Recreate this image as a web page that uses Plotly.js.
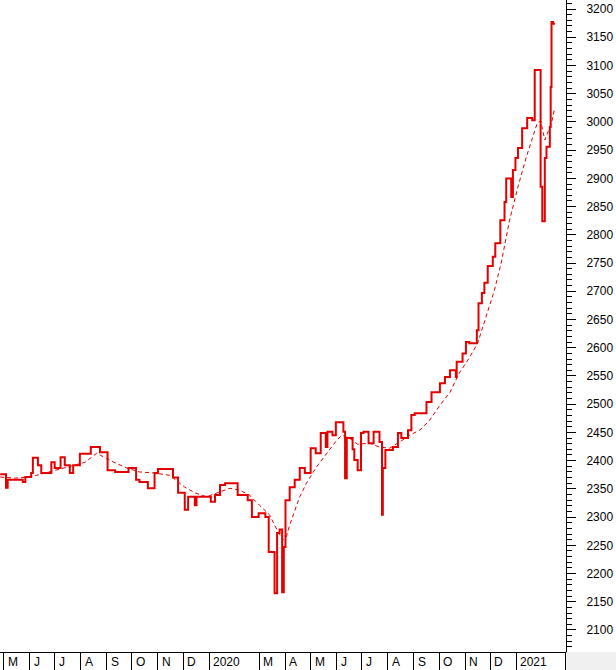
<!DOCTYPE html>
<html>
<head>
<meta charset="utf-8">
<script src="https://cdn.plot.ly/plotly-3.0.1.min.js"></script>
<style>html,body{margin:0;padding:0;background:#fff;}#chart{width:616px;height:670px;}</style>
</head>
<body>
<div id="chart"></div>
<script>
// Daily close (step line)
const dates = [
'2019-04-27','2019-05-04','2019-05-06','2019-05-24','2019-05-27','2019-06-03','2019-06-05','2019-06-11','2019-06-15','2019-06-27',
'2019-07-01','2019-07-08','2019-07-13','2019-07-19','2019-07-23','2019-07-31','2019-08-13','2019-08-24','2019-09-02','2019-09-11',
'2019-09-27','2019-10-06','2019-10-10','2019-10-20','2019-10-28','2019-11-01','2019-11-19','2019-11-25','2019-12-03','2019-12-07',
'2019-12-15','2019-12-17','2020-01-03','2020-01-08','2020-01-14','2020-01-20','2020-02-04','2020-02-16','2020-02-21','2020-02-29',
'2020-03-08','2020-03-12','2020-03-19','2020-03-22','2020-03-25','2020-03-28','2020-03-30','2020-04-01','2020-04-06','2020-04-12',
'2020-04-18','2020-04-24','2020-05-01','2020-05-07','2020-05-13','2020-05-19','2020-05-21','2020-05-27','2020-05-31','2020-06-09',
'2020-06-11','2020-06-13','2020-06-20','2020-06-22','2020-06-26','2020-06-30','2020-07-03','2020-07-09','2020-07-15','2020-07-22',
'2020-07-25','2020-07-26','2020-07-29','2020-08-07','2020-08-13','2020-08-17','2020-08-25','2020-08-29','2020-09-02','2020-09-16',
'2020-09-22','2020-10-02','2020-10-08','2020-10-14','2020-10-21','2020-10-22','2020-10-29','2020-11-02','2020-11-06','2020-11-15',
'2020-11-17','2020-11-21','2020-11-24','2020-11-28','2020-12-04','2020-12-07','2020-12-13','2020-12-18','2020-12-20','2020-12-26',
'2020-12-28','2020-12-31','2021-01-03','2021-01-08','2021-01-14','2021-01-20','2021-01-23','2021-01-30','2021-02-01','2021-02-04',
'2021-02-06','2021-02-10','2021-02-11','2021-02-12','2021-02-14','2021-02-16'
];
const closes = [
2376,2352,2366,2362,2371,2378,2405,2392,2378,2397,
2387,2406,2392,2378,2392,2412,2424,2415,2383,2380,
2387,2366,2362,2351,2378,2385,2370,2343,2313,2336,
2321,2336,2327,2339,2357,2360,2339,2330,2300,2307,
2300,2238,2165,2272,2278,2167,2247,2330,2353,2366,
2387,2378,2422,2413,2449,2424,2451,2445,2468,2451,
2369,2440,2420,2401,2383,2449,2451,2431,2451,2433,
2304,2387,2419,2424,2449,2440,2454,2481,2484,2504,
2521,2537,2548,2560,2548,2575,2590,2610,2608,2631,
2679,2697,2715,2745,2761,2785,2826,2858,2900,2867,
2915,2936,2954,2989,3007,3003,3092,2885,2824,2936,
2956,2991,3062,3177,3174,3174
];
// Moving average (dashed)
const maDates = [
'2019-04-27','2019-05-15','2019-06-02','2019-06-25','2019-07-19','2019-08-06','2019-08-20','2019-08-30','2019-09-11','2019-09-25',
'2019-10-10','2019-10-28','2019-11-15','2019-12-03','2019-12-15','2019-12-29','2020-01-14','2020-01-26','2020-02-06','2020-02-18',
'2020-03-01','2020-03-13','2020-03-22','2020-03-29','2020-04-02','2020-04-06','2020-04-18','2020-04-26','2020-05-08','2020-05-20',
'2020-06-01','2020-06-07','2020-06-16','2020-06-26','2020-07-10','2020-07-22','2020-08-03','2020-08-15','2020-08-27','2020-09-08',
'2020-09-20','2020-10-02','2020-10-14','2020-10-25','2020-11-06','2020-11-16','2020-11-27','2020-12-06','2020-12-14','2020-12-24',
'2021-01-03','2021-01-13','2021-01-26','2021-01-30','2021-02-04','2021-02-07','2021-02-12','2021-02-16'
];
const maValues = [
2371,2369,2371,2380,2389,2397,2413,2405,2396,2387,
2380,2378,2374,2353,2343,2336,2344,2351,2348,2339,
2321,2304,2277,2259,2265,2286,2336,2360,2389,2413,
2436,2445,2440,2429,2431,2424,2422,2433,2445,2454,
2472,2498,2521,2555,2582,2608,2658,2702,2750,2826,
2885,2938,2998,3002,2968,2980,2998,3026
];
// Month separators and labels of the bottom band
const monthTicks = ['2019-05-01','2019-06-01','2019-07-01','2019-08-01','2019-09-01','2019-10-01','2019-11-01','2019-12-01','2020-01-01',
'2020-03-01','2020-04-01','2020-05-01','2020-06-01','2020-07-01','2020-08-01','2020-09-01','2020-10-01','2020-11-01','2020-12-01','2021-01-01','2021-03-01'];
const monthLabels = ['M','J','J','A','S','O','N','D','2020','M','A','M','J','J','A','S','O','N','D','2021',''];

const FONT = {family: 'Arial, "Liberation Sans", sans-serif', size: 12, color: '#000'};
const RED = 'rgb(228,0,0)';

const traces = [
  {x: maDates, y: maValues, type: 'scatter', mode: 'lines',
   line: {color: RED, width: 1, dash: '4px,3px'}, hoverinfo: 'skip'},
  {x: dates, y: closes, type: 'scatter', mode: 'lines',
   line: {color: RED, width: 2, shape: 'hv'}}
];

const annotations = monthTicks.map((d, i) => ({
  x: d, xref: 'x', y: 0, yref: 'paper', text: monthLabels[i],
  xanchor: 'left', yanchor: 'top', xshift: 2, yshift: -1,
  showarrow: false, font: FONT
})).filter(a => a.text !== '');

const layout = {
  width: 616, height: 670,
  margin: {l: 0, r: 50, t: 0, b: 18, pad: 0},
  paper_bgcolor: '#fff', plot_bgcolor: '#fff',
  showlegend: false,
  font: FONT,
  xaxis: {
    type: 'date', range: ['2019-04-26 20:00', '2021-03-01 06:00'],
    showgrid: false, zeroline: false,
    showline: true, linecolor: '#000', linewidth: 1,
    tickmode: 'array', tickvals: monthTicks, showticklabels: false,
    ticks: 'outside', ticklen: 18, tickwidth: 1, tickcolor: '#000',
    fixedrange: true
  },
  yaxis: {
    side: 'right', range: [2061, 3216],
    tick0: 2100, dtick: 50,
    showgrid: false, zeroline: false,
    showline: true, linecolor: '#000', linewidth: 1,
    ticks: 'outside', ticklen: 9, tickwidth: 1, tickcolor: '#000',
    ticklabelstandoff: 8,
    minor: {dtick: 10, tick0: 2100, ticks: 'outside', ticklen: 5, tickcolor: '#000', showgrid: false},
    tickfont: FONT, fixedrange: true
  },
  shapes: [
    {type: 'rect', xref: 'paper', yref: 'paper', x0: 1.0005, x1: 1.2, y0: -0.1, y1: 0,
     fillcolor: '#f0f0f0', line: {width: 0}, layer: 'above'}
  ],
  annotations: annotations
};

Plotly.newPlot('chart', traces, layout, {displayModeBar: false, staticPlot: true});
</script>
</body>
</html>
